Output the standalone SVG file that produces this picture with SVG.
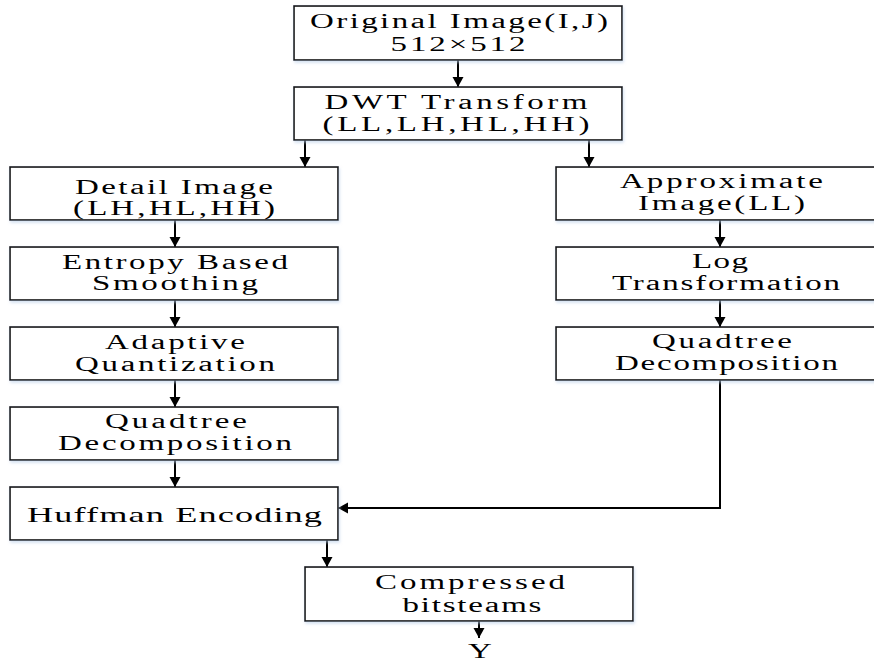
<svg xmlns="http://www.w3.org/2000/svg" width="874" height="663" viewBox="0 0 874 663">
<defs>
<style>
.box{fill:#fff;stroke:#111;stroke-width:1.6;filter:url(#sh)}
.t{font-family:"Liberation Serif","Times New Roman",serif;font-size:20px;fill:#000;text-anchor:middle}
.big{font-size:22px}
.c{fill:none;stroke:#000;stroke-width:2;marker-end:url(#ah)}
</style>
<filter id="sh" x="-5%" y="-20%" width="110%" height="140%">
<feDropShadow dx="1" dy="2" stdDeviation="1.5" flood-color="#b8cde8" flood-opacity="0.6"/>
</filter>
<marker id="ah" markerUnits="userSpaceOnUse" markerWidth="12" markerHeight="12" viewBox="0 0 12 12" refX="10" refY="6" orient="auto">
<path d="M0,0.5 L10,6 L0,11.5 z" fill="#000"/>
</marker>
</defs>

<g id="connectors">
<line class="c" x1="458" y1="60" x2="458" y2="87"/>
<line class="c" x1="305" y1="140" x2="305" y2="167"/>
<line class="c" x1="589" y1="140" x2="589" y2="167"/>
<line class="c" x1="175" y1="220" x2="175" y2="247"/>
<line class="c" x1="175" y1="300" x2="175" y2="327"/>
<line class="c" x1="175" y1="380" x2="175" y2="407"/>
<line class="c" x1="175" y1="460" x2="175" y2="487"/>
<line class="c" x1="720" y1="220" x2="720" y2="247"/>
<line class="c" x1="720" y1="300" x2="720" y2="327"/>
<polyline class="c" points="720,380 720,508 338,508"/>
<line class="c" x1="327" y1="540" x2="327" y2="567"/>
<line class="c" x1="479" y1="621" x2="479" y2="638"/>
</g>

<g id="original">
<rect class="box" x="294" y="6" width="328" height="54"/>
<text class="t" transform="translate(459,28) scale(1.65,1)" textLength="180.6" lengthAdjust="spacing">Original Image(I,J)</text>
<text class="t" transform="translate(458,51) scale(1.65,1)" textLength="81.8" lengthAdjust="spacing">512×512</text>
</g>

<g id="dwt">
<rect class="box" x="294" y="87" width="328" height="53"/>
<text class="t" transform="translate(456,109) scale(1.65,1)" textLength="159.4" lengthAdjust="spacing">DWT Transform</text>
<text class="t" transform="translate(456,131) scale(1.65,1)" textLength="161.8" lengthAdjust="spacing">(LL,LH,HL,HH)</text>
</g>

<g id="detail">
<rect class="box" x="10" y="167" width="328" height="53"/>
<text class="t" transform="translate(174,194) scale(1.65,1)" textLength="120" lengthAdjust="spacing">Detail Image</text>
<text class="t" transform="translate(174,215) scale(1.65,1)" textLength="122.4" lengthAdjust="spacing">(LH,HL,HH)</text>
</g>

<g id="entropy">
<rect class="box" x="10" y="247" width="328" height="53"/>
<text class="t" transform="translate(175,269) scale(1.65,1)" textLength="137" lengthAdjust="spacing">Entropy Based</text>
<text class="t" transform="translate(175,290) scale(1.65,1)" textLength="100.6" lengthAdjust="spacing">Smoothing</text>
</g>

<g id="adaptive">
<rect class="box" x="10" y="327" width="328" height="53"/>
<text class="t" transform="translate(175,349) scale(1.65,1)" textLength="84.8" lengthAdjust="spacing">Adaptive</text>
<text class="t" transform="translate(175,371) scale(1.65,1)" textLength="121.2" lengthAdjust="spacing">Quantization</text>
</g>

<g id="quadtree-left">
<rect class="box" x="10" y="407" width="328" height="53"/>
<text class="t" transform="translate(176,428) scale(1.65,1)" textLength="86.1" lengthAdjust="spacing">Quadtree</text>
<text class="t" transform="translate(175,450) scale(1.65,1)" textLength="141.8" lengthAdjust="spacing">Decomposition</text>
</g>

<g id="huffman">
<rect class="box" x="10" y="487" width="328" height="53"/>
<text class="t big" transform="translate(174.5,522) scale(1.65,1)" textLength="178.8" lengthAdjust="spacing">Huffman Encoding</text>
</g>

<g id="approximate">
<rect class="box" x="556" y="167" width="330" height="53"/>
<text class="t" transform="translate(721.5,188) scale(1.65,1)" textLength="123" lengthAdjust="spacing">Approximate</text>
<text class="t" transform="translate(721.5,210) scale(1.65,1)" textLength="101.2" lengthAdjust="spacing">Image(LL)</text>
</g>

<g id="log">
<rect class="box" x="556" y="247" width="330" height="53"/>
<text class="t" transform="translate(720,268) scale(1.65,1)" textLength="33.9" lengthAdjust="spacing">Log</text>
<text class="t" transform="translate(726,290) scale(1.65,1)" textLength="138.2" lengthAdjust="spacing">Transformation</text>
</g>

<g id="quadtree-right">
<rect class="box" x="556" y="327" width="330" height="53"/>
<text class="t" transform="translate(722,348) scale(1.65,1)" textLength="84.8" lengthAdjust="spacing">Quadtree</text>
<text class="t" transform="translate(726.5,370) scale(1.65,1)" textLength="135.2" lengthAdjust="spacing">Decomposition</text>
</g>

<g id="compressed">
<rect class="box" x="305" y="567" width="328" height="54"/>
<text class="t" transform="translate(470,589) scale(1.65,1)" textLength="115.2" lengthAdjust="spacing">Compressed</text>
<text class="t" transform="translate(472,612) scale(1.65,1)" textLength="84.2" lengthAdjust="spacing">bitsteams</text>
</g>

<g id="output-y">
<text class="t" transform="translate(480,658) scale(1.65,1)">Y</text>
</g>
</svg>
